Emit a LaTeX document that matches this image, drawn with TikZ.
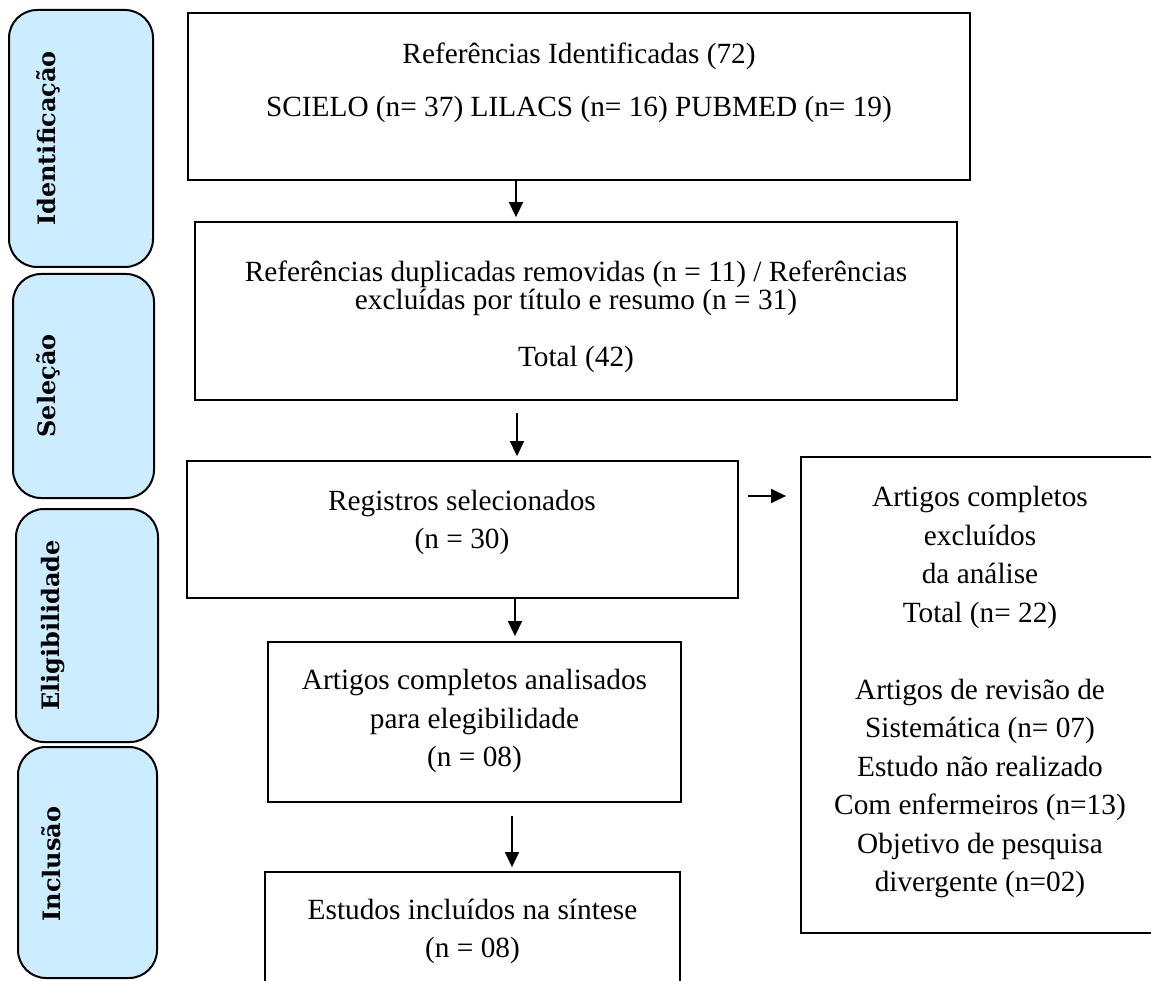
\documentclass[tikz,border=0pt]{standalone}
\usepackage{fontspec}
\setmainfont{Liberation Serif}
\newfontfamily\labelfont{DejaVu Serif}
\usetikzlibrary{arrows.meta}
\definecolor{lblue}{RGB}{204,236,255}
\begin{document}
\begin{tikzpicture}[x=1pt,y=-1pt,
  box/.style={draw, line width=1.8pt, inner sep=0pt, rectangle},
  lbl/.style={draw, line width=2pt, fill=lblue, rounded corners=28pt, inner sep=0pt, rectangle},
  txt/.style={inner sep=0pt, text height=19.4pt, text depth=0pt, font=\fontsize{29.3}{35}\selectfont},
  ltxt/.style={inner sep=0pt, rotate=90, text height=17.5pt, text depth=0pt, font=\labelfont\bfseries\fontsize{24}{28}\selectfont},
  arr/.style={line width=1.6pt, -{Triangle[length=15pt,width=14pt]}}]
\useasboundingbox (0,0) rectangle (1151,981);
\clip (0,0) rectangle (1151,981);

% phase labels
\node[lbl, minimum width=144pt, minimum height=257pt] (L1) at (81,138.5) {};
\node[lbl, minimum width=141pt, minimum height=224pt] (L2) at (83.5,386) {};
\node[lbl, minimum width=142pt, minimum height=233pt] (L3) at (87,625.5) {};
\node[lbl, minimum width=139pt, minimum height=231pt] (L4) at (87.5,862.5) {};
\node[ltxt] (L1t) at (47,138.5) {Identificação};
\node[ltxt] (L2t) at (47,386) {Seleção};
\node[ltxt] (L3t) at (51,625.5) {Eligibilidade};
\node[ltxt] (L4t) at (52,864) {Inclusão};

% boxes
\node[box, minimum width=782pt, minimum height=167pt] (b1) at (579,96.5) {};
\node[box, minimum width=762pt, minimum height=178pt] (b2) at (576,311) {};
\node[box, minimum width=551pt, minimum height=137pt] (b3) at (462.5,529.5) {};
\node[box, minimum width=413pt, minimum height=160pt] (b4) at (474.5,722) {};
\node[box, minimum width=415pt, minimum height=128pt] (b5) at (472.5,936) {};
\node[box, minimum width=364pt, minimum height=476pt] (r) at (983,695) {};

% texts
\node[txt] (t1a) at (579,54) {Referências Identificadas (72)};
\node[txt] (t1b) at (579,107) {SCIELO (n= 37) LILACS (n= 16) PUBMED (n= 19)};
\node[txt] (t2a) at (576,272) {Referências duplicadas removidas (n = 11) / Referências};
\node[txt] (t2b) at (576,300) {excluídas por título e resumo (n = 31)};
\node[txt] (t2c) at (576,357) {Total (42)};
\node[txt] (t3a) at (462,501) {Registros selecionados};
\node[txt] (t3b) at (462,539) {(n = 30)};
\node[txt] (t4a) at (474.5,680) {Artigos completos analisados};
\node[txt] (t4b) at (474.5,719) {para elegibilidade};
\node[txt] (t4c) at (474.5,757) {(n = 08)};
\node[txt] (t5a) at (472.5,910) {Estudos incluídos na síntese};
\node[txt] (t5b) at (472.5,948) {(n = 08)};
\node[txt] (ra1) at (980,497) {Artigos completos};
\node[txt] (ra2) at (980,535.5) {excluídos};
\node[txt] (ra3) at (980,574) {da análise};
\node[txt] (ra4) at (980,612.5) {Total (n= 22)};
\node[txt] (ra5) at (980,689.5) {Artigos de revisão de};
\node[txt] (ra6) at (980,728) {Sistemática (n= 07)};
\node[txt] (ra7) at (980,766.5) {Estudo não realizado};
\node[txt] (ra8) at (980,805) {Com enfermeiros (n=13)};
\node[txt] (ra9) at (980,843.5) {Objetivo de pesquisa};
\node[txt] (ra10) at (980,882) {divergente (n=02)};

% connectors
\coordinate (ax1) at (516,0);
\coordinate (ax2) at (517,0);
\coordinate (ax3) at (515,0);
\coordinate (ax4) at (512,0);
\coordinate (ay) at (0,496);
\draw[arr, shorten >=4pt] (b1.south -| ax1) -- (b2.north -| ax1);
\draw[arr, shorten <=12pt, shorten >=4pt] (b2.south -| ax2) -- (b3.north -| ax2);
\draw[arr, shorten >=5pt] (b3.south -| ax3) -- (b4.north -| ax3);
\draw[arr, shorten <=13pt, shorten >=4pt] (b4.south -| ax4) -- (b5.north -| ax4);
\draw[arr, shorten <=9pt, shorten >=14pt] (b3.east |- ay) -- (r.west |- ay);
\end{tikzpicture}
\end{document}
